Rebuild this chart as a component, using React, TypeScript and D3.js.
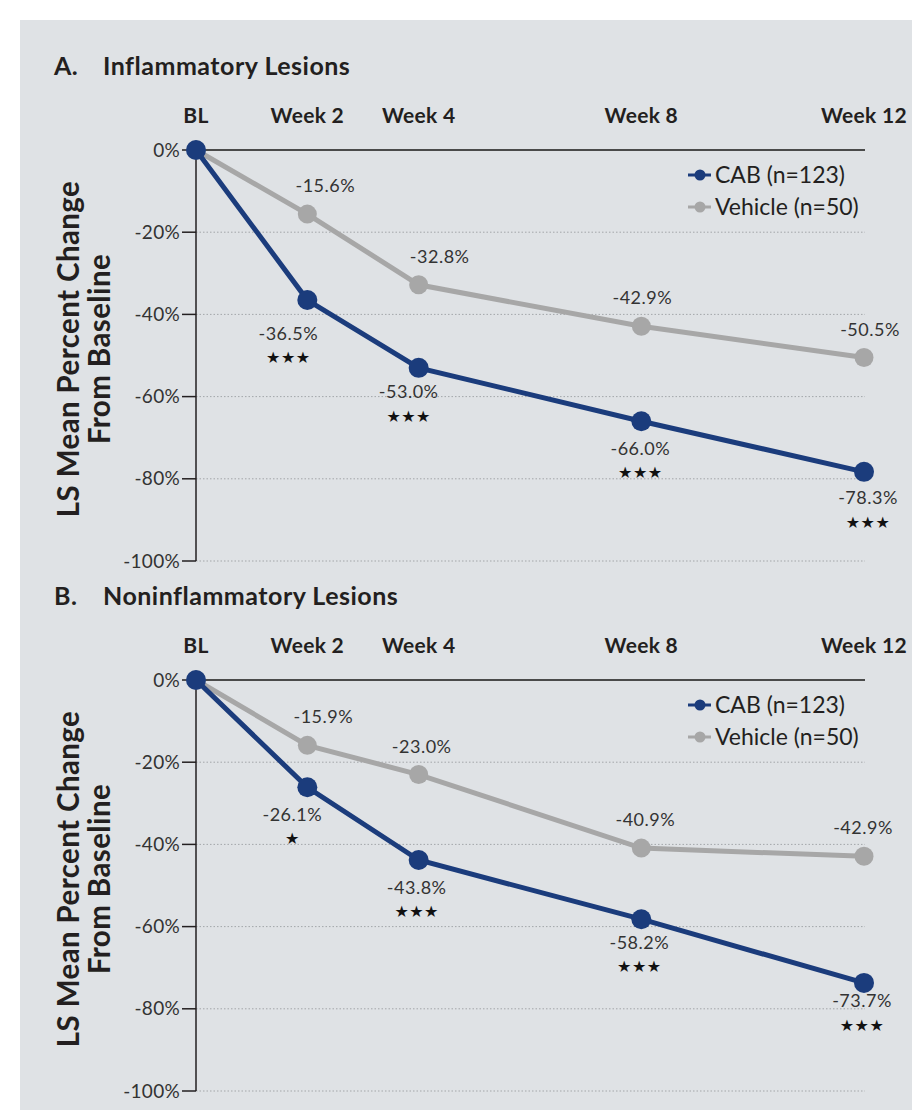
import React from "react";
import * as d3 from "d3";

// ---------- data ----------
const weeks = [0, 2, 4, 8, 12];
const weekLabels = ["BL", "Week 2", "Week 4", "Week 8", "Week 12"];
const yTicks = [0, -20, -40, -60, -80, -100];
const seriesNames = ["CAB (n=123)", "Vehicle (n=50)"];

const inflamCAB = [0, -36.5, -53.0, -66.0, -78.3];
const inflamVehicle = [0, -15.6, -32.8, -42.9, -50.5];
const inflamSig = ["", "***", "***", "***", "***"];

const noninflamCAB = [0, -26.1, -43.8, -58.2, -73.7];
const noninflamVehicle = [0, -15.9, -23.0, -40.9, -42.9];
const noninflamSig = ["", "*", "***", "***", "***"];

// ---------- style ----------
const W = 912;
const H = 1110;
const NAVY = "#1b3c7c";
const GREY = "#a7a7a7";
const BG = "#dfe2e5";
const FONT = "Lato, 'Open Sans', sans-serif";

type PanelProps = {
  offset: number;
  letter: string;
  title: string;
  cab: number[];
  vehicle: number[];
  sig: string[];
  vehDx: number[];
  cabDx: number[];
  cabDy: number[];
};

const fmt = (v: number) => `${v.toFixed(1)}%`;
const star = (s: string) => "★".repeat(s.length);

function Panel({ offset, letter, title, cab, vehicle, sig, vehDx, cabDx, cabDy }: PanelProps) {
  const x = d3.scaleLinear().domain([0, 12]).range([196, 864]);
  const y = d3.scaleLinear().domain([0, -100]).range([150 + offset, 561 + offset]);
  const line = d3
    .line<number>()
    .x((_, i) => x(weeks[i]))
    .y((d) => y(d));
  const axisRight = 865;

  return (
    <g>
      {/* title */}
      <text x={54} y={75 + offset} fontFamily={FONT} fontWeight={700} fontSize={25} letterSpacing={0.5} fill="#231f20">
        {letter}
      </text>
      <text x={103} y={75 + offset} fontFamily={FONT} fontWeight={700} fontSize={25} letterSpacing={0.5} fill="#231f20">
        {title}
      </text>

      {/* x labels (top) */}
      {weekLabels.map((l, i) => (
        <text
          key={l}
          x={x(weeks[i])}
          y={123 + offset}
          textAnchor="middle"
          fontFamily={FONT}
          fontWeight={700}
          fontSize={21}
          letterSpacing={0.3}
          fill="#231f20"
        >
          {l}
        </text>
      ))}

      {/* gridlines */}
      {yTicks.slice(1).map((t) => (
        <line
          key={t}
          x1={x(0)}
          x2={axisRight}
          y1={y(t)}
          y2={y(t)}
          stroke="#a3a6a9"
          strokeWidth={1}
          strokeDasharray="1.5 2"
        />
      ))}
      {/* top axis */}
      <line x1={x(0)} x2={axisRight} y1={y(0)} y2={y(0)} stroke="#4a4a4a" strokeWidth={2} />
      {/* left axis */}
      <line x1={x(0)} x2={x(0)} y1={y(0)} y2={y(-100)} stroke="#231f20" strokeWidth={1.5} />
      {yTicks.map((t) => (
        <g key={t}>
          <line x1={182} x2={x(0)} y1={y(t)} y2={y(t)} stroke="#231f20" strokeWidth={1.5} />
          <text
            x={180}
            y={y(t) + 6.5}
            textAnchor="end"
            fontFamily={FONT}
            fontSize={19}
            letterSpacing={0.3}
            fill="#333"
          >
            {`${t}%`}
          </text>
        </g>
      ))}

      {/* y title */}
      <g transform={`translate(0, ${349 + offset}) rotate(-90)`}>
        <text x={0} y={79} textAnchor="middle" fontFamily={FONT} fontWeight={700} fontSize={29.5} letterSpacing={0.4} fill="#231f20">
          LS Mean Percent Change
        </text>
        <text x={0} y={110} textAnchor="middle" fontFamily={FONT} fontWeight={700} fontSize={29.5} letterSpacing={0.4} fill="#231f20">
          From Baseline
        </text>
      </g>

      {/* series */}
      <path d={line(vehicle) || ""} fill="none" stroke={GREY} strokeWidth={5} />
      {vehicle.map((v, i) => (
        <circle key={i} cx={x(weeks[i])} cy={y(v)} r={9.5} fill={GREY} />
      ))}
      <path d={line(cab) || ""} fill="none" stroke={NAVY} strokeWidth={5} />
      {cab.map((v, i) => (
        <circle key={i} cx={x(weeks[i])} cy={y(v)} r={10} fill={NAVY} />
      ))}

      {/* value labels */}
      {vehicle.map((v, i) =>
        i === 0 ? null : (
          <text
            key={i}
            x={x(weeks[i]) + vehDx[i]}
            y={y(v) - 22}
            textAnchor="middle"
            fontFamily={FONT}
            fontSize={18}
            letterSpacing={0.5}
            fill="#333"
          >
            {fmt(v)}
          </text>
        )
      )}
      {cab.map((v, i) =>
        i === 0 ? null : (
          <g key={i}>
            <text
              x={x(weeks[i]) + cabDx[i]}
              y={y(v) + cabDy[i] + 6.5}
              textAnchor="middle"
              fontFamily={FONT}
              fontSize={18}
              letterSpacing={0.5}
              fill="#333"
            >
              {fmt(v)}
            </text>
            <text
              x={x(weeks[i]) + cabDx[i]}
              y={y(v) + cabDy[i] + 30}
              textAnchor="middle"
              fontFamily="'DejaVu Sans', sans-serif"
              fontSize={16}
              letterSpacing={0.5}
              fill="#111"
            >
              {star(sig[i])}
            </text>
          </g>
        )
      )}

      {/* legend */}
      {[NAVY, GREY].map((c, k) => (
        <g key={c}>
          <line x1={688} x2={711} y1={175 + k * 32 + offset} y2={175 + k * 32 + offset} stroke={c} strokeWidth={3} />
          <circle cx={700} cy={175 + k * 32 + offset} r={5.5} fill={c} />
          <text x={715} y={183 + k * 32 + offset} fontFamily={FONT} fontSize={23} fill="#231f20">
            {seriesNames[k]}
          </text>
        </g>
      ))}
    </g>
  );
}

export default function App() {
  return (
    <div style={{ position: "absolute", left: 0, top: 0 }}>
      <svg width={W} height={H} viewBox={`0 0 ${W} ${H}`} style={{ display: "block" }}>
        <rect x={0} y={0} width={W} height={H} fill="#ffffff" />
        <rect x={20} y={20} width={W - 20} height={H - 20} fill={BG} />
        <Panel
          offset={0}
          letter="A."
          title="Inflammatory Lesions"
          cab={inflamCAB}
          vehicle={inflamVehicle}
          sig={inflamSig}
          vehDx={[0, 18, 21, 1, 6]}
          cabDx={[0, -19, -10, -1, 4]}
          cabDy={[0, 33, 24, 27, 26]}
        />
        <Panel
          offset={530}
          letter="B."
          title="Noninflammatory Lesions"
          cab={noninflamCAB}
          vehicle={noninflamVehicle}
          sig={noninflamSig}
          vehDx={[0, 16, 3, 4, -1]}
          cabDx={[0, -15, -2, -2, -2]}
          cabDy={[0, 27, 27, 23, 18]}
        />
      </svg>
    </div>
  );
}
